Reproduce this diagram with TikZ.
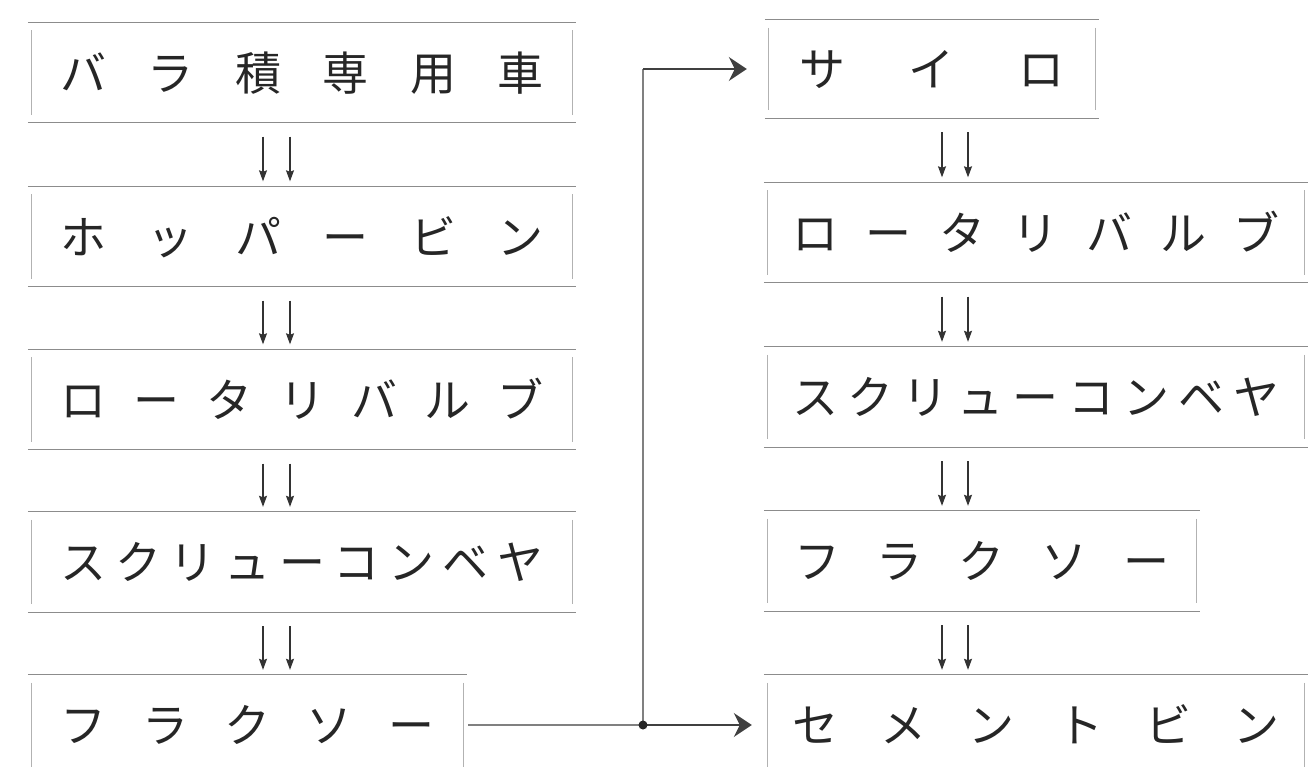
\documentclass[tikz,border=0pt]{standalone}
\usepackage{fontspec}
\newfontfamily\jp{Noto Sans CJK JP}
\usetikzlibrary{arrows.meta}
\newcommand\frameit[1]{%
  \draw[hl] ([xshift=-4pt]#1.north west) -- ([xshift=4pt]#1.north east);
  \draw[hl] ([xshift=-4pt]#1.south west) -- ([xshift=4pt]#1.south east);
  \draw[vl] ([yshift=-8pt]#1.north west) -- ([yshift=8pt]#1.south west);
  \draw[vl] ([yshift=-8pt]#1.north east) -- ([yshift=8pt]#1.south east);}
\begin{document}
\begin{tikzpicture}[x=1pt,y=-1pt,
  stagebox/.style={inner sep=0pt, minimum height=100pt, text height=40.5pt, text depth=5.5pt,
    font=\jp\fontsize{46}{50}\selectfont, text=black!85},
  hl/.style={draw=black!45, line width=1.3pt},
  vl/.style={draw=black!30, line width=1.1pt},
  darr/.style={draw=black!80, line width=1.2pt, -{Stealth[length=11pt,width=8pt,inset=1.5pt]},
    shorten <=14pt, shorten >=5pt},
  conn/.style={draw=black!50, line width=1.1pt},
  bigarr/.style={draw=black!75, line width=1.4pt, -{Stealth[length=18pt,width=24pt,inset=6pt]}}
]
\useasboundingbox (0,0) rectangle (1309,766);
\fill[white] (0,0) rectangle (1309,766);
\clip (0,0) rectangle (1309,766);

% left column
\node[stagebox, minimum width=540pt] (L1) at (302,72.5) {\makebox[483pt]{バ\hfill ラ\hfill 積\hfill 専\hfill 用\hfill 車}};
\node[stagebox, minimum width=540pt] (L2) at (302,236.5) {\makebox[483pt]{ホ\hfill ッ\hfill パ\hfill ー\hfill ビ\hfill ン}};
\node[stagebox, minimum width=540pt] (L3) at (302,399.5) {\makebox[483pt]{ロ\hfill ー\hfill タ\hfill リ\hfill バ\hfill ル\hfill ブ}};
\node[stagebox, minimum width=540pt] (L4) at (302,562) {\makebox[483pt]{ス\hfill ク\hfill リ\hfill ュ\hfill ー\hfill コ\hfill ン\hfill ベ\hfill ヤ}};
\node[stagebox, minimum width=431pt] (L5) at (247.5,725) {\makebox[375pt]{フ\hfill ラ\hfill ク\hfill ソ\hfill ー}};

% right column
\node[stagebox, minimum width=326pt, minimum height=98pt] (R1) at (932,69) {\makebox[266pt]{サ\hfill イ\hfill ロ}};
\node[stagebox, minimum width=536pt] (R2) at (1036,232.5) {\makebox[488pt]{ロ\hfill ー\hfill タ\hfill リ\hfill バ\hfill ル\hfill ブ}};
\node[stagebox, minimum width=536pt] (R3) at (1036,397) {\makebox[488pt]{ス\hfill ク\hfill リ\hfill ュ\hfill ー\hfill コ\hfill ン\hfill ベ\hfill ヤ}};
\node[stagebox, minimum width=428pt] (R4) at (982,561) {\makebox[376pt]{フ\hfill ラ\hfill ク\hfill ソ\hfill ー}};
\node[stagebox, minimum width=536pt] (R5) at (1036,725) {\makebox[488pt]{セ\hfill メ\hfill ン\hfill ト\hfill ビ\hfill ン}};

\foreach \n in {L1,L2,L3,L4,L5,R1,R2,R3,R4,R5} {\frameit{\n}}

% double arrows
\coordinate (la) at (263,0);
\coordinate (lb) at (290,0);
\coordinate (ra) at (942,0);
\coordinate (rb) at (968,0);
\foreach \a/\b in {L1/L2,L2/L3,L3/L4,L4/L5} {
  \draw[darr] (\a.south -| la) -- (\b.north -| la);
  \draw[darr] (\a.south -| lb) -- (\b.north -| lb);
}
\foreach \a/\b in {R1/R2,R2/R3,R3/R4,R4/R5} {
  \draw[darr] (\a.south -| ra) -- (\b.north -| ra);
  \draw[darr] (\a.south -| rb) -- (\b.north -| rb);
}

% branch connector
\coordinate (J) at (643,725);
\draw[conn, shorten <=5pt] (L5.east) -- (J);
\draw[conn] (J) -- (J |- R1.west);
\draw[bigarr, shorten >=16pt] (J) -- (R5.west);
\draw[bigarr, shorten >=22pt] (J |- R1.west) -- (R1.west);
\fill[black!85] (J) circle (4.5pt);
\end{tikzpicture}
\end{document}
